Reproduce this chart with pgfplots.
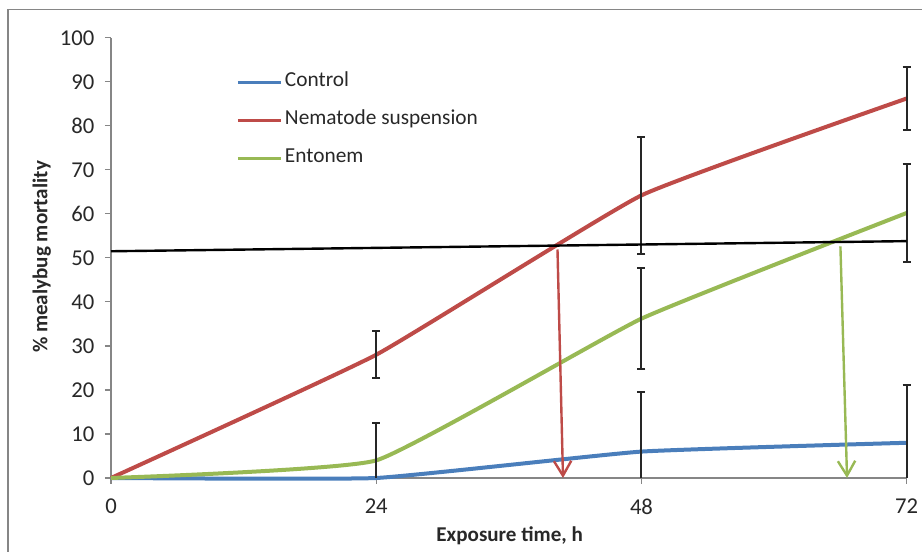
\documentclass[border=0pt]{standalone}
\usepackage{pgfplots}
\pgfplotsset{compat=1.18}
\usepackage{fontspec}
\setmainfont{Carlito}
\usetikzlibrary{arrows.meta}
\definecolor{cblue}{RGB}{74,126,187}
\definecolor{cred}{RGB}{190,75,72}
\definecolor{cgreen}{RGB}{152,185,84}
\definecolor{axgray}{RGB}{134,134,134}
\definecolor{txt}{RGB}{40,40,40}
\begin{document}
\begin{tikzpicture}
\useasboundingbox (-83.25pt,-55.5pt) rectangle (608.25pt,358.5pt);
\draw[axgray, line width=1.2pt] (-77.25pt,-60pt) -- (-77.25pt,351.4pt) -- (615pt,351.4pt);
\begin{axis}[
  at={(0pt,0pt)}, anchor=south west,
  scale only axis, width=596.8pt, height=330.2pt,
  xmin=0, xmax=72, ymin=0, ymax=100,
  clip=false,
  axis lines*=left,
  axis line style={axgray, line width=0.9pt},
  xtick={0,24,48,72}, ytick={0,10,...,100},
  tick align=outside, major tick length=4.5pt,
  tick style={axgray, line width=0.9pt},
  /pgf/number format/assume math mode=true,
  ticklabel style={font=\fontsize{17}{20}\selectfont, text=txt},
  xticklabel shift=7.5pt, yticklabel shift=4.5pt,
  xlabel={\bfseries Exposure time, h},
  ylabel={\bfseries \% mealybug mortality},
  every axis x label/.style={at={(rel axis cs:0.501,0)}, yshift=-43pt, anchor=center, font=\fontsize{15.8}{18}\selectfont, text=txt},
  every axis y label/.style={at={(rel axis cs:0,0.502)}, xshift=-52pt, rotate=90, anchor=center, font=\fontsize{15.8}{18}\selectfont, text=txt},
  legend cell align=left,
  legend style={at={(rel axis cs:0.157,0.918)}, anchor=north west, draw=none, fill=none,
    font=\fontsize{16}{18}\selectfont, text=txt, row sep=15.5pt, inner sep=0pt,
    nodes={inner sep=1.5pt, text depth=0.25em, text height=0.75em},
    /tikz/every even column/.append style={column sep=0pt}},
  legend image code/.code={\draw[#1, line width=2.6pt] (0pt,0pt) -- (32.5pt,0pt);},
]
% data lines
\addplot[cblue, line width=3pt, smooth, tension=0.22] coordinates {(0,0) (24,0) (48,6) (72,8)};
\addlegendentry{Control}
\addplot[cred, line width=3pt, smooth, tension=0.22] coordinates {(0,0) (24,28) (48,64.2) (72,86.2)};
\addlegendentry{Nematode suspension}
\addplot[cgreen, line width=3pt, smooth, tension=0.22] coordinates {(0,0) (24,4) (48,36.2) (72,60.2)};
\addlegendentry{Entonem}

% error bars (two-sided)
\addplot[forget plot, draw=none, mark=none,
  error bars/.cd, y dir=both, y explicit,
  error bar style={draw=black!85, line width=1.5pt},
  error mark options={draw=black!85, line width=1.5pt, mark size=3pt, rotate=90}]
  coordinates {(24,28) +- (0,5.4) (48,64.2) +- (0,13.3) (72,86.2) +- (0,7.1)
               (48,36.2) +- (0,11.5) (72,60.2) +- (0,11.2)};
% control error bars: upward part with cap
\addplot[forget plot, draw=none, mark=none,
  error bars/.cd, y dir=plus, y explicit,
  error bar style={draw=black!85, line width=1.5pt},
  error mark options={draw=black!85, line width=1.5pt, mark size=3pt, rotate=90}]
  coordinates {(24,0) +- (0,12.6) (48,6) +- (0,13.5) (72,8) +- (0,13.1)};
% control error bars: downward part reaching the axis, no cap
\addplot[forget plot, draw=none, mark=none,
  error bars/.cd, y dir=minus, y explicit, error mark=none,
  error bar style={draw=black!85, line width=1.5pt}]
  coordinates {(48,6) +- (0,6) (72,8) +- (0,8)};

% 50% line
\addplot[forget plot, black, line width=1.8pt] coordinates {(0,51.5) (72,53.8)};
% arrows
\addplot[forget plot, cred, line width=1.8pt, -{Straight Barb[length=11pt, width=13pt, line width=1.8pt]}]
  coordinates {(40.4,51.9) (40.9,0)};
\addplot[forget plot, cgreen, line width=1.8pt, -{Straight Barb[length=11pt, width=13pt, line width=1.8pt]}]
  coordinates {(66.0,52.6) (66.6,0)};
\end{axis}
\end{tikzpicture}
\end{document}
